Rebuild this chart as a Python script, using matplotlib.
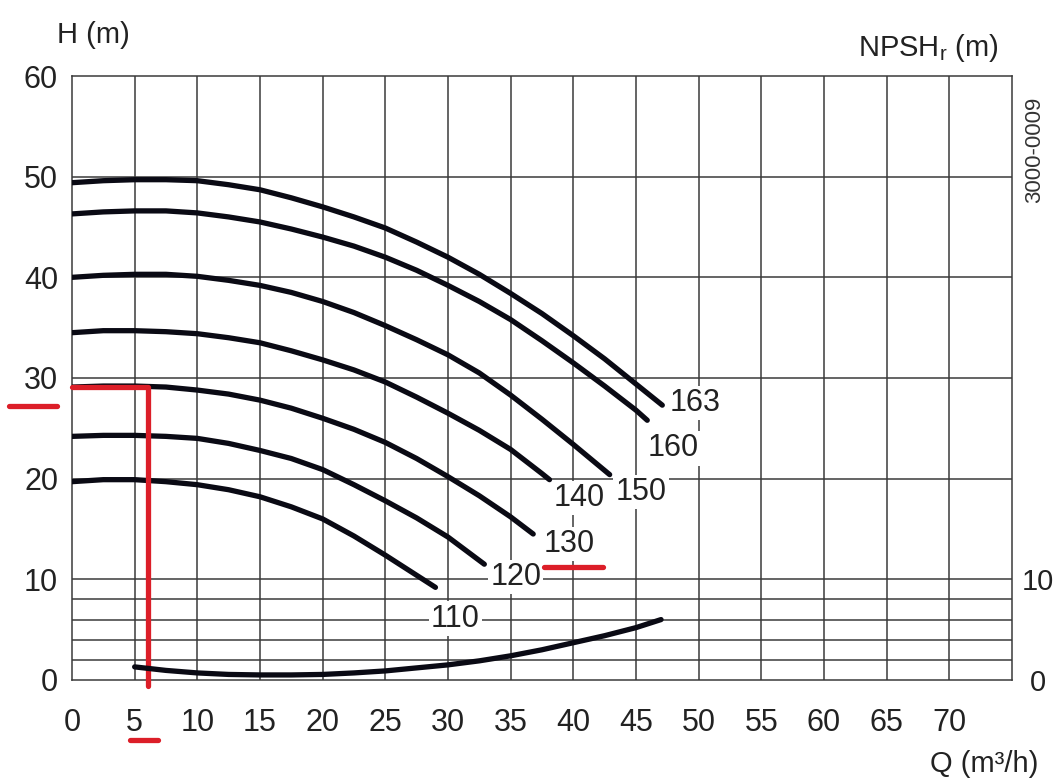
import matplotlib.pyplot as plt
import numpy as np

plt.rcParams['font.family'] = ['Liberation Sans', 'DejaVu Sans']

# pump curves H(Q), one per impeller diameter (read every 2.5 m3/h)
q_163 = [0, 2.5, 5, 7.5, 10, 12.5, 15, 17.5, 20, 22.5, 25, 27.5, 30, 32.5, 35, 37.5, 40, 42.5, 45, 47.1]
h_163 = [49.4, 49.6, 49.7, 49.7, 49.6, 49.2, 48.7, 47.9, 47.0, 46.0, 44.9, 43.5, 42.0, 40.3, 38.4, 36.4,
         34.2, 31.9, 29.4, 27.3]
q_160 = [0, 2.5, 5, 7.5, 10, 12.5, 15, 17.5, 20, 22.5, 25, 27.5, 30, 32.5, 35, 37.5, 40, 42.5, 45, 45.9]
h_160 = [46.3, 46.5, 46.6, 46.6, 46.4, 46.0, 45.5, 44.8, 44.0, 43.1, 42.0, 40.7, 39.2, 37.6, 35.8, 33.7,
         31.5, 29.2, 26.8, 25.8]
q_150 = [0, 2.5, 5, 7.5, 10, 12.5, 15, 17.5, 20, 22.5, 25, 27.5, 30, 32.5, 35, 37.5, 40, 42.9]
h_150 = [40.0, 40.2, 40.3, 40.3, 40.1, 39.7, 39.2, 38.5, 37.6, 36.5, 35.2, 33.8, 32.3, 30.5, 28.3, 25.9,
         23.4, 20.4]
q_140 = [0, 2.5, 5, 7.5, 10, 12.5, 15, 17.5, 20, 22.5, 25, 27.5, 30, 32.5, 35, 37.5, 38.1]
h_140 = [34.5, 34.7, 34.7, 34.6, 34.4, 34.0, 33.5, 32.7, 31.8, 30.8, 29.6, 28.1, 26.5, 24.8, 22.9, 20.5,
         19.9]
q_130 = [0, 2.5, 5, 7.5, 10, 12.5, 15, 17.5, 20, 22.5, 25, 27.5, 30, 32.5, 35, 36.8]
h_130 = [29.1, 29.2, 29.2, 29.1, 28.8, 28.4, 27.8, 27.0, 26.0, 24.9, 23.6, 22.0, 20.2, 18.3, 16.2, 14.5]
q_120 = [0, 2.5, 5, 7.5, 10, 12.5, 15, 17.5, 20, 22.5, 25, 27.5, 30, 32.9]
h_120 = [24.2, 24.3, 24.3, 24.2, 24.0, 23.5, 22.8, 22.0, 20.9, 19.4, 17.8, 16.1, 14.2, 11.5]
q_110 = [0, 2.5, 5, 7.5, 10, 12.5, 15, 17.5, 20, 22.5, 25, 27.5, 29.0]
h_110 = [19.7, 19.9, 19.9, 19.7, 19.4, 18.9, 18.2, 17.2, 16.0, 14.3, 12.4, 10.4, 9.2]

curves = [(q_163, h_163), (q_160, h_160), (q_150, h_150), (q_140, h_140),
          (q_130, h_130), (q_120, h_120), (q_110, h_110)]
labels = ['163', '160', '150', '140', '130', '120', '110']
label_pos = [(49.7, 27.5), (48.0, 23.0), (45.4, 18.7), (40.5, 18.1),
             (39.7, 13.5), (35.4, 10.2), (30.6, 6.1)]

# NPSHr curve (right scale, 0-10)
q_npsh = [5, 7.5, 10, 12.5, 15, 17.5, 20, 22.5, 25, 27.5, 30, 32.5, 35, 37.5, 40, 42.5, 45, 47.0]
h_npsh = [1.3, 0.95, 0.7, 0.55, 0.5, 0.5, 0.55, 0.7, 0.9, 1.2, 1.5, 1.9, 2.4, 3.0, 3.7, 4.4, 5.2, 6.0]

# red duty point marks
duty_q = 6.1
duty_h = 29.1

grid_c = '#3a3a3a'
ink = '#0a0a14'
red = '#dc1e28'

fig = plt.figure(figsize=(10.57, 7.78), dpi=100)
ax = fig.add_axes([0.0681, 0.1260, 0.8893, 0.7763])
ax.set_xlim(0, 75)
ax.set_ylim(0, 60)

for x in range(5, 75, 5):
    ax.axvline(x, color=grid_c, lw=1.1, zorder=1)
for y in [2, 4, 6, 8, 10, 20, 30, 40, 50]:
    ax.axhline(y, color=grid_c, lw=1.1, zorder=1)
for s in ax.spines.values():
    s.set_color(grid_c)
    s.set_linewidth(1.1)

for (q, h) in curves:
    ax.plot(q, h, color=ink, lw=3.8, solid_capstyle='round', solid_joinstyle='round', zorder=3)

for lab, (x, y) in zip(labels, label_pos):
    ax.text(x, y, lab, fontsize=22, ha='center', va='center', color='#222222', zorder=4,
            bbox=dict(facecolor='white', edgecolor='none', pad=1.5))

ax.set_xticks(range(0, 75, 5))
ax.set_yticks(range(0, 70, 10))
ax.tick_params(length=0, labelsize=22, labelcolor='#222222')
ax.tick_params(axis='x', pad=20)
ax.tick_params(axis='y', pad=10)

ax2 = ax.twinx()
ax2.set_ylim(0, 60)
ax2.plot(q_npsh, h_npsh, color=ink, lw=3.8, solid_capstyle='round', solid_joinstyle='round', zorder=3)
ax2.set_yticks([0, 10])
ax2.tick_params(length=0, labelsize=21, labelcolor='#222222', pad=19)
for lbl in ax2.get_yticklabels():
    lbl.set_ha('center')
for s in ax2.spines.values():
    s.set_visible(False)

# red duty point
ax.plot([0, duty_q, duty_q], [duty_h, duty_h, -0.6], color=red, lw=3.8,
        solid_capstyle='round', clip_on=False, zorder=5)
ax.plot([-5.0, -1.2], [27.2, 27.2], color=red, lw=3.8, solid_capstyle='round', clip_on=False)
ax.plot([4.6, 6.9], [-6.0, -6.0], color=red, lw=3.8, solid_capstyle='round', clip_on=False)
ax.plot([37.7, 42.4], [11.2, 11.2], color=red, lw=3.8, solid_capstyle='round', clip_on=False, zorder=5)

fig.text(93 / 1057, 1 - 35 / 778, 'H (m)', fontsize=21, ha='center', va='center', color='#222222')
fig.text(928 / 1057, 1 - 48 / 778, 'NPSH$_{\\mathregular{r}}$ (m)', fontsize=21, ha='center', va='center',
         color='#222222')
fig.text(984 / 1057, 1 - 764 / 778, 'Q (m³/h)', fontsize=21, ha='center', va='center', color='#222222')
fig.text(1035 / 1057, 1 - 150 / 778, '3000-0009', fontsize=16, rotation=90, ha='center', va='center',
         color='#333333')

fig.savefig('out.png', dpi=100)
